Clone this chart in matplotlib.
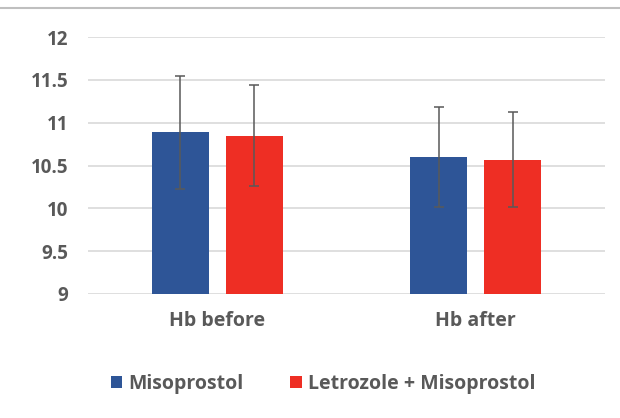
import matplotlib
matplotlib.use("Agg")
import numpy as np
import matplotlib.pyplot as plt
from matplotlib.lines import Line2D

groups = ["Hb before", "Hb after"]
series = ["Misoprostol", "Letrozole + Misoprostol"]
miso = [10.89, 10.60]
miso_err = [0.66, 0.58]
letro = [10.85, 10.57]
letro_err = [0.59, 0.56]
yticks = [9, 9.5, 10, 10.5, 11, 11.5, 12]

blue = "#2E5597"
red = "#EE2E24"
txt = "#595959"

plt.rcParams['font.family'] = ['Open Sans', 'DejaVu Sans']
plt.rcParams['font.weight'] = 'bold'

fig = plt.figure(figsize=(6.2, 4.18), dpi=100)
ax = fig.add_axes([0.142, 0.297, 0.834, 0.614])

x = np.arange(len(groups))
w = 0.22
off = 0.143
ekw = dict(ecolor=txt, elinewidth=1.1, capsize=3.6, capthick=1.1)
ax.bar(x - off, miso, w, bottom=0, yerr=miso_err, color=blue, label=series[0], error_kw=ekw, zorder=3)
ax.bar(x + off, letro, w, bottom=0, yerr=letro_err, color=red, label=series[1], error_kw=ekw, zorder=3)

ax.set_ylim(9, 12)
ax.set_xlim(-0.5, 1.5)
ax.set_yticks(yticks)
ax.set_yticklabels([f"{t:g}" for t in yticks])
ax.set_xticks(x)
ax.set_xticklabels(groups, fontsize=14, fontweight='bold')
ax.tick_params(axis='y', labelsize=13.5, colors=txt, length=0, pad=14)
ax.tick_params(axis='x', colors=txt, length=0, pad=12)
ax.yaxis.grid(True, color="#D9D9D9", linewidth=1.2, zorder=0)
for s in ax.spines.values():
    s.set_visible(False)

fig.legend(loc='center', bbox_to_anchor=(0.521, 0.081), ncol=2, frameon=False,
           fontsize=14, handlelength=0.6, handleheight=0.6, handletextpad=0.3,
           columnspacing=2.4, labelcolor=txt)

fig.add_artist(Line2D([0.0, 1.0], [0.981, 0.981], color="#BFBFBF", linewidth=1.5,
                      transform=fig.transFigure))

fig.savefig("out.png", dpi=100, facecolor="white")
